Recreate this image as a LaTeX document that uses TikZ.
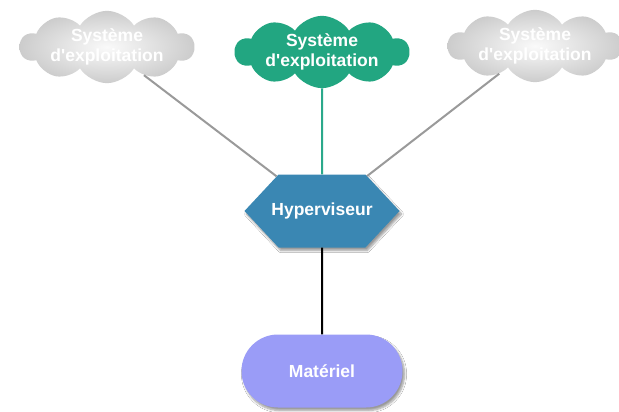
\documentclass[tikz,border=0pt]{standalone}
\usepackage{fontspec}
\setmainfont{Liberation Sans}
\usetikzlibrary{shapes.symbols,shapes.misc,shadows.blur}
\definecolor{osgreen}{HTML}{22A681}
\definecolor{hypblue}{HTML}{3A87B3}
\definecolor{hwviolet}{HTML}{9A9CF7}
\definecolor{linkgray}{HTML}{9A9A9A}
\definecolor{linkgreen}{HTML}{2BA98B}
\tikzset{
  label text/.style={text=white, font=\bfseries\fontsize{17.5}{20}\selectfont, align=center},
  oscloud/.style={cloud, cloud puffs=10, cloud puff arc=115, aspect=3,
    minimum width=174pt, minimum height=58pt, inner xsep=-4pt, inner ysep=-12pt, label text},
  osidle/.style={oscloud, shade, inner color=white!96!gray, outer color=gray!40},
  osactive/.style={oscloud, fill=osgreen},
  hypbox/.style={signal, signal to=east and west, signal pointer angle=94,
    fill=hypblue, minimum width=155pt, minimum height=73pt, inner xsep=-8pt, inner ysep=0pt,
    label text, blur shadow={shadow xshift=2pt, shadow yshift=-3pt, shadow blur steps=6}},
  hwbox/.style={rounded rectangle, fill=hwviolet, minimum width=161pt,
    minimum height=73pt, inner sep=0pt, label text,
    blur shadow={shadow xshift=2pt, shadow yshift=-3pt, shadow blur steps=6}},
  link/.style={line width=2pt}
}
\newcommand{\osname}{Système\\d\textquotesingle exploitation}
\begin{document}
\begin{tikzpicture}[x=1pt,y=-1pt]
\useasboundingbox[fill=white] (0,0) rectangle (619,412);

% guest operating systems
\node[osidle]   (osl) at (107,47) {\osname};
\node[osactive] (osm) at (322,52) {\osname};
\node[osidle]   (osr) at (535,46) {\osname};

% hypervisor and hardware
\node[hypbox] (hyp) at (322,211) {Hyperviseur};
\node[hwbox]  (hw)  at (322,371) {Matériel};

% connections
\draw[link, linkgray]  (osl) -- (hyp);
\draw[link, linkgray]  (osr) -- (hyp);
\draw[link, linkgreen] (osm) -- (hyp);
\draw[link, black]     (hyp) -- (hw);
\end{tikzpicture}
\end{document}
